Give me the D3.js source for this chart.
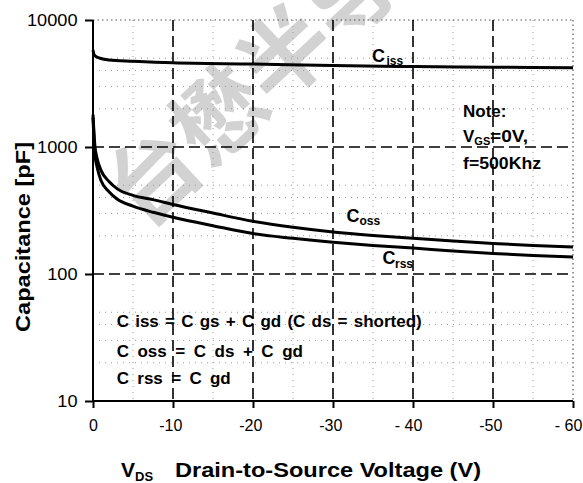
<!DOCTYPE html>
<html><head><meta charset="utf-8">
<script src="https://cdn.jsdelivr.net/npm/d3@7"></script>
<style>
html,body{margin:0;padding:0;background:#fff;}
svg{display:block;font-family:"Liberation Sans",Arial,Helvetica,sans-serif;}
</style></head>
<body><svg id="c" width="583" height="483"></svg>
<script>
// ---- data ----
const xTicks = [0, -10, -20, -30, -40, -50, -60];
const xTickLabels = ["0", "-10", "-20", "-30", "- 40", "-50", "- 60"];
const yTicks = [10, 100, 1000, 10000];
const yTickLabels = ["10", "100", "1000", "10000"];
const xMinor = [-5, -15, -25, -35, -45, -55];
const yMinor = [20, 30, 40, 50, 200, 300, 400, 500, 2000, 3000, 4000, 5000];

const vdsIss = [0, -0.1, -0.3, -0.9, -2, -5, -10, -20, -30, -40, -50, -60];
const ciss   = [5800, 5400, 5200, 5000, 4850, 4740, 4600, 4500, 4380, 4300, 4250, 4200];

const vdsOss = [0, -0.25, -0.5, -1, -2, -3, -5, -7.5, -10, -15, -20, -25, -30, -35, -40, -45, -50, -55, -60];
const coss   = [1800, 1000, 820, 655, 535, 470, 416, 385, 353, 302, 260, 233, 214, 201, 191, 182, 174, 168, 163];
const crss   = [1700, 860, 700, 545, 445, 390, 342, 306, 280, 240, 208, 191, 178, 168, 160, 152, 145, 140, 136];

const formulas = ["C iss = C gs + C gd (C ds = shorted)", "C oss = C ds + C gd", "C rss = C gd"];
const watermark = "台懋半导";

// ---- scales ----
const svg = d3.select("#c");
const x = d3.scaleLinear().domain([0, -60]).range([93, 573]);
const y = d3.scaleLog().domain([10, 10000]).range([401, 20]);

// watermark
svg.append("text")
  .attr("transform", "translate(248,80) rotate(-43)")
  .attr("text-anchor", "middle").attr("dominant-baseline", "central")
  .style("font-family", "'Noto Sans CJK SC'").style("font-weight", 700)
  .style("font-size", "90px").style("fill", "#d2d2d2")
  .text(watermark);

// minor dotted grid
const g = svg.append("g");
g.selectAll("line.vm").data(xMinor).join("line")
  .attr("x1", d => x(d)).attr("x2", d => x(d)).attr("y1", y(10000)).attr("y2", y(10))
  .attr("stroke", "#999").attr("stroke-width", 1).attr("stroke-dasharray", "1,5");
g.selectAll("line.hm").data(yMinor).join("line")
  .attr("x1", x(0)).attr("x2", x(-60)).attr("y1", d => y(d)).attr("y2", d => y(d))
  .attr("stroke", "#999").attr("stroke-width", 1).attr("stroke-dasharray", "1,5");
// top and right dotted border
g.append("line").attr("x1", x(0)).attr("x2", x(-60)).attr("y1", y(10000)).attr("y2", y(10000))
  .attr("stroke", "#555").attr("stroke-width", 1.2).attr("stroke-dasharray", "1.5,3");
g.append("line").attr("x1", x(-60)).attr("x2", x(-60)).attr("y1", y(10000)).attr("y2", y(10))
  .attr("stroke", "#555").attr("stroke-width", 1.2).attr("stroke-dasharray", "1.5,3");

// major dashed grid
g.selectAll("line.vM").data(xTicks.slice(1, -1)).join("line")
  .attr("x1", d => x(d)).attr("x2", d => x(d)).attr("y1", y(10000)).attr("y2", y(10))
  .attr("stroke", "#000").attr("stroke-width", 1.6).attr("stroke-dasharray", "11,5");
g.selectAll("line.hM").data([100, 1000]).join("line")
  .attr("x1", x(0)).attr("x2", x(-60)).attr("y1", d => y(d)).attr("y2", d => y(d))
  .attr("stroke", "#000").attr("stroke-width", 1.6).attr("stroke-dasharray", "11,5");

// curves
const line = d3.line().x(d => x(d[0])).y(d => y(d[1])).curve(d3.curveMonotoneX);
const series = [
  d3.zip(vdsIss, ciss),
  d3.zip(vdsOss, coss),
  d3.zip(vdsOss, crss)
];
svg.selectAll("path.curve").data(series).join("path")
  .attr("d", line).attr("fill", "none").attr("stroke", "#000").attr("stroke-width", 3);

// axes
const yAxis = svg.append("g").attr("transform", `translate(${x(0)},0)`)
  .call(d3.axisLeft(y).tickValues(yTicks).tickFormat((d, i) => yTickLabels[i]).tickSize(8).tickPadding(8));
const xAxis = svg.append("g").attr("transform", `translate(0,${y(10)})`)
  .call(d3.axisBottom(x).tickValues(xTicks).tickFormat((d, i) => xTickLabels[i]).tickSize(7).tickPadding(12));
[yAxis, xAxis].forEach(a => {
  a.select(".domain").attr("stroke", "#000").attr("stroke-width", 2);
  a.selectAll(".tick line").attr("stroke", "#000").attr("stroke-width", 2);
  a.selectAll("text").attr("fill", "#000").style("font-size", "16px")
    .style("font-family", "'Liberation Sans',Arial,sans-serif");
});
yAxis.select(".domain").attr("d", `M0,${y(10)}V${y(10000)}`);
xAxis.select(".domain").attr("d", `M${x(0)},0H${x(-60)}`);
yAxis.selectAll(".tick text").attr("x", -15.5).attr("dy", "0.36em")
  .attr("textLength", (d, i) => yTickLabels[i].length * 10.1).attr("lengthAdjust", "spacingAndGlyphs");
xAxis.selectAll(".tick text").attr("text-anchor", "end")
  .attr("dx", (d, i) => (xTickLabels[i].replace(/[^0-9]/g, "").length * 8.9) / 2);

// axis titles
svg.append("text").attr("transform", "translate(30,237) rotate(-90)")
  .attr("text-anchor", "middle").style("font-size", "20px").style("font-weight", "bold")
  .attr("textLength", 190).attr("lengthAdjust", "spacingAndGlyphs")
  .text("Capacitance [pF]");
const xt = svg.append("text").attr("y", 477).style("font-weight", "bold");
xt.append("tspan").attr("x", 121).style("font-size", "21px").text("V");
xt.append("tspan").attr("dy", 4).style("font-size", "13px").text("DS");
xt.append("tspan").attr("x", 175).attr("dy", -4).style("font-size", "20px")
  .attr("textLength", 306).attr("lengthAdjust", "spacingAndGlyphs")
  .text("Drain-to-Source Voltage (V)");

// series labels
function subLabel(px, py, sub, subX) {
  const t = svg.append("text").attr("x", px).attr("y", py).style("font-weight", "bold");
  t.append("tspan").style("font-size", "18px").text("C");
  t.append("tspan").attr("x", subX).attr("dy", 3.5).style("font-size", "12px").text(sub);
}
subLabel(372, 61.7, "iss", 386.5);
subLabel(346.5, 221.7, "oss", 359.5);
subLabel(382.5, 264, "rss", 395);

// note
const nt = svg.append("g").style("font-weight", "bold").style("font-size", "17px");
nt.append("text").attr("x", 463).attr("y", 116.7).text("Note:");
const vg = nt.append("text").attr("x", 463).attr("y", 141.7);
vg.append("tspan").text("V");
vg.append("tspan").attr("dy", 3).style("font-size", "11px").text("GS");
vg.append("tspan").attr("dy", -3).attr("x", 490).attr("textLength", 38).attr("lengthAdjust", "spacingAndGlyphs").text("=0V,");
nt.append("text").attr("x", 463).attr("y", 169).attr("textLength", 78).attr("lengthAdjust", "spacingAndGlyphs").text("f=500Khz");

// formulas
const fSpace = [1.5, 3.8, 3.6];
const fY = [326.7, 356.7, 384];
svg.append("g").selectAll("text").data(formulas).join("text")
  .attr("x", 116.7).attr("y", (d, i) => fY[i])
  .style("font-size", "17px").style("font-weight", "bold")
  .style("word-spacing", (d, i) => fSpace[i] + "px")
  .text(d => d);
</script></body></html>
